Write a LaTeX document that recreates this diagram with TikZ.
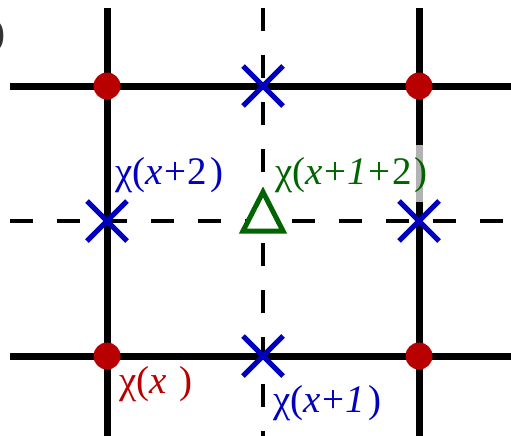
\documentclass[tikz,border=0pt]{standalone}
\usepackage{fontspec}
\setmainfont{Liberation Serif}
\usetikzlibrary{calc}
\definecolor{dred}{RGB}{185,0,0}
\definecolor{dblue}{RGB}{0,0,190}
\definecolor{dgreen}{RGB}{0,100,0}
\newcommand{\pl}{\hspace{1.5pt}+\hspace{1.5pt}}
\begin{document}
\begin{tikzpicture}[x=1pt,y=-1pt,
  solidline/.style={line width=7pt,black},
  dashline/.style={line width=3.5pt,black,dash pattern=on 23pt off 24pt},
  reddot/.style={circle,fill=dred,minimum size=27pt,inner sep=0pt},
  crossmark/.style={line width=5pt,dblue},
  lab/.style={anchor=base west,inner sep=0pt,font=\fontsize{39}{39}\selectfont}]
\useasboundingbox (0,0) rectangle (511,436);
% grid
\coordinate (A) at (107,86);
\coordinate (B) at (263,86);
\coordinate (C) at (419,86);
\coordinate (D) at (107,221);
\coordinate (E) at (263,221);
\coordinate (F) at (419,221);
\coordinate (G) at (107,356);
\coordinate (H) at (263,356);
\coordinate (I) at (419,356);
\draw[dashline] (10,221) -- (511,221);
\draw[dashline] (263,8) -- (263,436);
\draw[solidline] (10,86) -- (511,86);
\draw[solidline] (10,356) -- (511,356);
\draw[solidline] (107,8) -- (107,436);
\draw[solidline] (419,8) -- (419,436);
\draw[line width=7pt,black!30] (419,145) -- (419,202);
% dots
\foreach \p in {A,C,G,I} \node[reddot] at (\p) {};
% crosses
\foreach \p in {B,D,F,H} {
  \draw[crossmark] ($(\p)+(-20,-20)$) -- ($(\p)+(20,20)$);
  \draw[crossmark] ($(\p)+(-20,20)$) -- ($(\p)+(20,-20)$);
}
% triangle
\draw[line width=5pt,dgreen,fill=white,line join=miter] (263,192) -- (283,231) -- (243,231) -- cycle;
% labels
\node[lab,text=dblue] (l2) at (115,184) {χ(\textit{x}\pl2\hspace{3pt})};
\node[lab,text=dgreen] (l12) at (275,184) {χ(\textit{x}\pl\textit{1}\pl2\hspace{3pt})};
\node[lab,text=dred] (l0) at (119,393) {χ(\textit{x}\hspace{3pt} )};
\node[lab,text=dblue] (l1) at (273,412) {χ(\textit{x}\pl\textit{1}\hspace{3pt})};
\node[anchor=base east,inner sep=0pt,text=black!80,font=\fontsize{39}{39}\selectfont] (corner) at (6,46) {)};
\end{tikzpicture}
\end{document}
